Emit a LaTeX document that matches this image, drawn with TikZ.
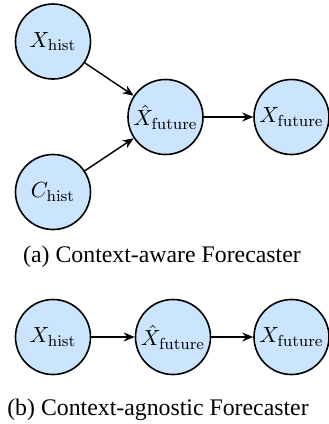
\documentclass[tikz,border=0pt]{standalone}
\usepackage[no-math]{fontspec}
\setmainfont{Liberation Serif}
\usetikzlibrary{arrows.meta}
\definecolor{nodefill}{RGB}{204,229,255}
\tikzset{
  var/.style={circle, draw=black, line width=0.8pt, fill=nodefill, minimum size=37.5pt, inner sep=0pt, font=\fontsize{10.8}{13}\selectfont},
  conn/.style={-{Stealth[length=5.5pt,width=4.5pt]}, line width=0.7pt},
  caption/.style={font=\fontsize{11.9}{14}\selectfont, inner sep=0pt}
}
\begin{document}
\begin{tikzpicture}[x=0.5pt,y=-0.5pt]
\useasboundingbox (0,0) rectangle (328,424);
% (a)
\node[var] (xh) at (53,41.5) {$X_{\mathrm{hist}}$};
\node[var] (ch) at (53,192) {$C_{\mathrm{hist}}$};
\node[var] (xhat) at (165.5,117) {$\hat{X}_{\mathrm{future}}$};
\node[var] (xf) at (291.5,117) {$X_{\mathrm{future}}$};
\draw[conn] (xh) -- (xhat);
\draw[conn] (ch) -- (xhat);
\draw[conn] (xhat) -- (xf);
\node[caption] (capa) at (162,257) {(a) Context-aware Forecaster};
% (b)
\node[var] (bxh) at (53,337) {$X_{\mathrm{hist}}$};
\node[var] (bxhat) at (173,337) {$\hat{X}_{\mathrm{future}}$};
\node[var] (bxf) at (291.5,337) {$X_{\mathrm{future}}$};
\draw[conn] (bxh) -- (bxhat);
\draw[conn] (bxhat) -- (bxf);
\node[caption] (capb) at (158,410) {(b) Context-agnostic Forecaster};
\end{tikzpicture}
\end{document}
